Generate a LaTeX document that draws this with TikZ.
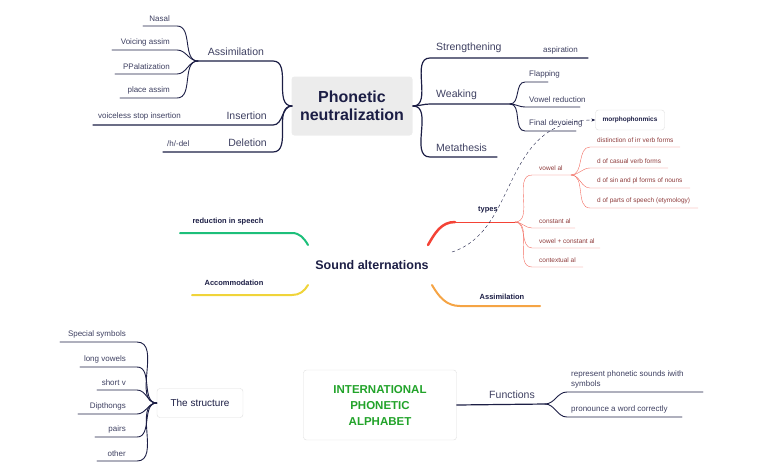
\documentclass[tikz,border=0pt]{standalone}
\usepackage{fontspec}
\setmainfont{Liberation Sans}
\usetikzlibrary{arrows.meta, positioning, calc}
\definecolor{navy}{HTML}{1C1E45}
\definecolor{redb}{HTML}{F44336}
\definecolor{redl}{HTML}{F26B60}
\definecolor{redt}{HTML}{8E3B3B}
\definecolor{orb}{HTML}{F5A445}
\definecolor{grb}{HTML}{1DBF7A}
\definecolor{yeb}{HTML}{F0D43A}
\definecolor{ipag}{HTML}{22A32A}
\tikzset{
    root/.style={rectangle, rounded corners=3pt, fill=gray!15, align=center, font=\fontsize{16}{18}\selectfont\bfseries, text=navy, minimum width=121pt, minimum height=59pt},
    topic/.style={rectangle, rounded corners=3pt, draw=gray!25, fill=white, align=center, text=navy},
    lbl/.style={font=\fontsize{10.5}{12}\selectfont, text=navy!85, inner sep=1pt},
    leaf/.style={font=\fontsize{8}{9.5}\selectfont, text=navy!85, inner sep=1pt},
    rleaf/.style={font=\fontsize{6.5}{7.5}\selectfont, text=redt, inner sep=1pt},
    br/.style={draw=navy, line width=1.2pt},
    sbr/.style={draw=navy, line width=0.9pt},
}
\begin{document}
\begin{tikzpicture}[x=1pt, y=-1pt, line cap=round]
    \useasboundingbox (0,0) rectangle (762,472);
    % Phonetic neutralization
    \node [root] (pn) at (352,106) {Phonetic\\neutralization};
    \coordinate (pnl) at (292,106);
    \coordinate (pnr) at (413,106);
    % left main branches
    \coordinate (asH) at (198,61);  \coordinate (asE) at (273,61);
    \coordinate (inS) at (93,125);  \coordinate (inE) at (273,125);
    \coordinate (deS) at (163,152); \coordinate (deE) at (273,152);
    \draw [br] (pnl) to[out=180,in=0] (asE) -- (asH);
    \draw [br] (pnl) to[out=180,in=0] (inE) -- (inS);
    \draw [br] (pnl) to[out=180,in=0] (deE) -- (deS);
    \node [lbl, anchor=south] at (236,57) {Assimilation};
    \node [lbl, anchor=south east] at (268,121) {Insertion};
    \node [lbl, anchor=south east] at (268,148) {Deletion};
    \node [leaf, anchor=south west] at (97,121) {voiceless stop insertion};
    \node [leaf, anchor=south west] at (166,148) {/h/-del};
    % assimilation leaves
    \foreach \y/\x/\t [count=\i] in {26/143/Nasal, 50/112/Voicing assim, 74/115/PPalatization, 98/120/place assim}{
        \coordinate (as\i) at (177,\y);
        \draw [sbr] (asH) to[out=180,in=0] (as\i) -- (\x,\y);
        \node [leaf, anchor=south east] at (171,\y-3) {\t};
    }
    % right main branches
    \coordinate (stS) at (430,58);  \coordinate (stE) at (588,58);
    \coordinate (weS) at (430,104); \coordinate (weH) at (510,104);
    \coordinate (meS) at (430,157); \coordinate (meE) at (497,157);
    \draw [br] (pnr) to[out=0,in=180] (stS) -- (stE);
    \draw [br] (pnr) to[out=0,in=180] (weS) -- (weH);
    \draw [br] (pnr) to[out=0,in=180] (meS) -- (meE);
    \node [lbl, anchor=south west] at (435,54) {Strengthening};
    \node [leaf, anchor=south west] at (542,55) {aspiration};
    \node [lbl, anchor=south west] at (435,101) {Weaking};
    \node [lbl, anchor=south west] at (435,153) {Metathesis};
    \foreach \y/\x/\t [count=\i] in {82/548/Flapping, 107/580/Vowel reduction, 131/576/Final devoicing}{
        \coordinate (we\i) at (525,\y);
        \draw [sbr] (weH) to[out=0,in=180] (we\i) -- (\x,\y);
        \node [leaf, anchor=south west] at (528,\y-3) {\t};
    }
    \node [topic, font=\fontsize{6.5}{8}\selectfont\bfseries, minimum width=69pt, minimum height=20pt] (mp) at (630,120) {morphophonmics};
    % Sound alternations
    \node [font=\fontsize{12.5}{14}\selectfont\bfseries, text=navy] (sa) at (372,265) {Sound alternations};
    \coordinate (tyE) at (515,222);
    \draw [redb, line width=2.5pt] (428,245) to[out=60,in=180] (455,222);
    \draw [redb, thick] (455,222) -- (tyE);
    \node [font=\fontsize{7.5}{8}\selectfont\bfseries, text=navy] at (488,210) {types};
    \coordinate (vaH) at (571,175);
    \draw [redl] (tyE) to[out=0,in=180] (532,175) -- (vaH);
    \node [rleaf, anchor=south west] at (538,172) {vowel al};
    \foreach \y/\x/\t in {228/575/constant al, 248/600/vowel + constant al, 267/583/contextual al}{
        \draw [redl] (tyE) to[out=0,in=180] (532,\y) -- (\x,\y);
        \node [rleaf, anchor=south west] at (538,\y-3) {\t};
    }
    \foreach \y/\x/\t in {147/680/distinction of irr verb forms, 168/668/d of casual verb forms, 188/690/d of sin and pl forms of nouns, 208/698/d of parts of speech (etymology)}{
        \draw [redl] (vaH) to[out=0,in=180] (590,\y) -- (\x,\y);
        \node [rleaf, anchor=south west] at (596,\y-3) {\t};
    }
    \draw [orb, line width=2pt] (432,285) to[out=-60,in=180] (460,306) -- (540,306);
    \node [font=\fontsize{7.5}{8}\selectfont\bfseries, text=navy] at (502,297) {Assimilation};
    \draw [grb, line width=2pt] (308,245) to[out=120,in=0] (292,233) -- (180,233);
    \node [font=\fontsize{7.5}{8}\selectfont\bfseries, text=navy] at (228,222) {reduction in speech};
    \draw [yeb, line width=2pt] (308,285) to[out=-120,in=0] (292,295) -- (192,295);
    \node [font=\fontsize{7.5}{8}\selectfont\bfseries, text=navy] at (234,283) {Accommodation};
    \draw [navy, dashed, -{Stealth[length=4pt]}] (452,252) .. controls (520,230) and (500,120) .. (mp.west);
    % IPA
    \node [topic, font=\fontsize{11.5}{16}\selectfont\bfseries, text=ipag, minimum width=153pt, minimum height=70pt] (ipa) at (380,405) {INTERNATIONAL\\PHONETIC\\ALPHABET};
    \coordinate (fuH) at (545,404);
    \draw [br] (ipa.east) -- (fuH);
    \node [lbl, anchor=south] at (512,400) {Functions};
    \draw [sbr] (fuH) to[out=0,in=180] (567,392) -- (703,392);
    \draw [sbr] (fuH) to[out=0,in=180] (567,417) -- (682,417);
    \node [leaf, anchor=south west, align=left] at (570,389) {represent phonetic sounds iwith\\symbols};
    \node [leaf, anchor=south west] at (570,414) {pronounce a word correctly};
    % The structure
    \node [topic, font=\fontsize{10}{11}\selectfont, minimum width=86pt, minimum height=29pt] (st) at (200,403) {The structure};
    \foreach \y/\x/\t in {342/60/Special symbols, 367/80/long vowels, 390/97/short v, 414/78/Dipthongs, 437/95/pairs, 461/97/other}{
        \draw [sbr] (st.west) to[out=180,in=0] (137,\y) -- (\x,\y);
        \node [leaf, anchor=south east] at (127,\y-3) {\t};
    }
\end{tikzpicture}
\end{document}
